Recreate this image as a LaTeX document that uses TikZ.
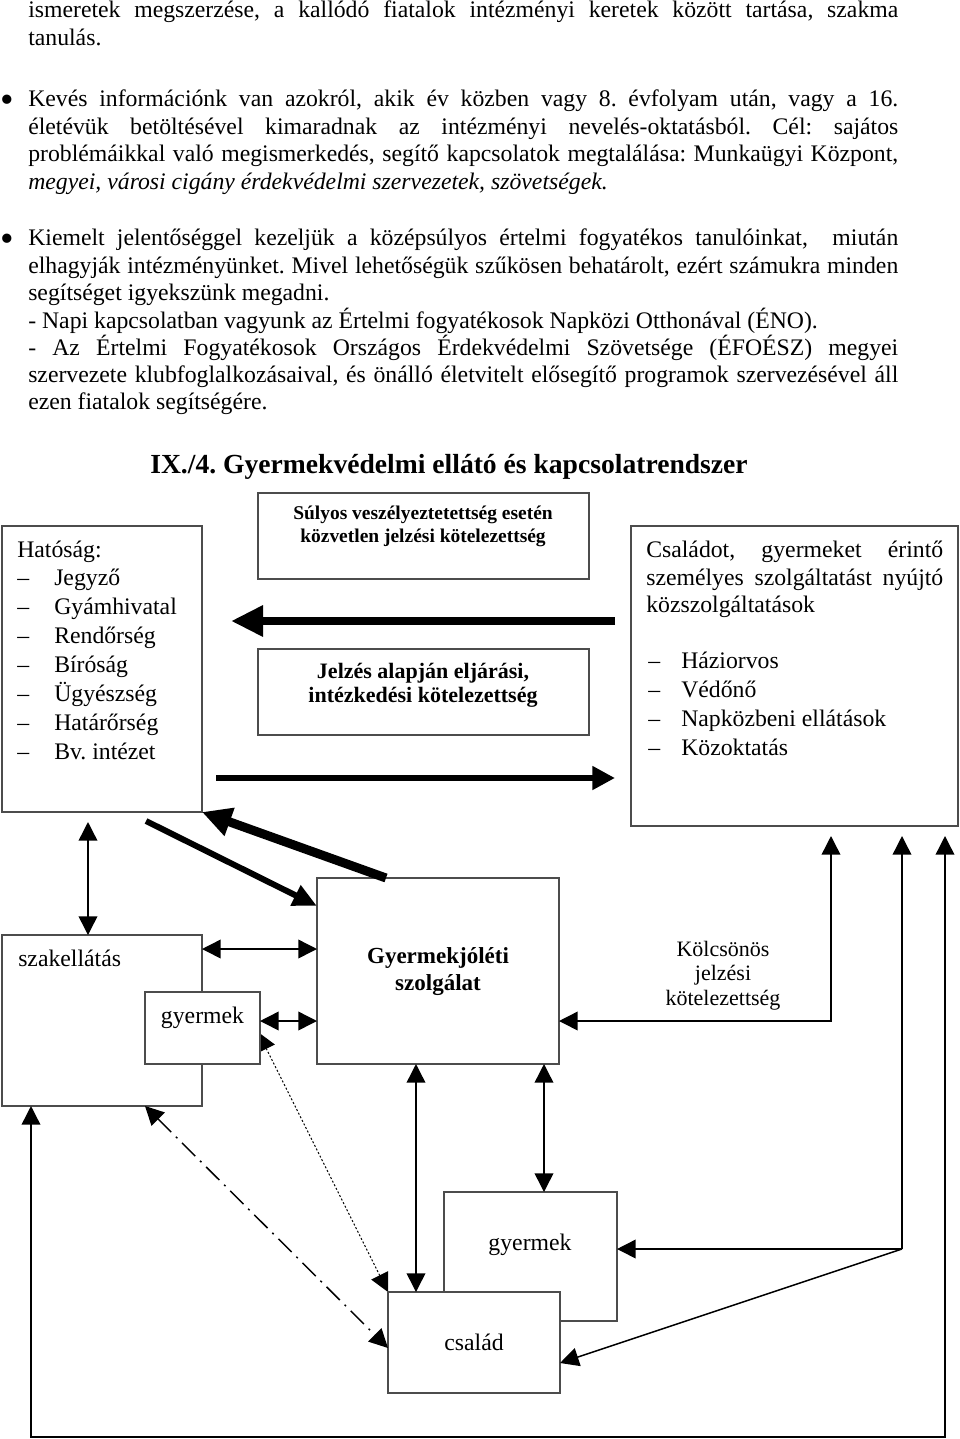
\documentclass[tikz,border=0pt]{standalone}
\usepackage{fontspec}
\setmainfont{Liberation Serif}
\usetikzlibrary{arrows.meta,calc}
\pgfdeclarelayer{bglayer}
\pgfsetlayers{bglayer,main}
\newcommand\jline[1]{\makebox[652.5pt][s]{#1}}
\newcommand\jbox[1]{\makebox[222.75pt][s]{#1}}
\frenchspacing
\begin{document}
\frenchspacing
\begin{tikzpicture}[x=0.75pt,y=-0.75pt,
  >={Triangle[length=14pt,width=14pt]},
  box/.style={draw=black!70,line width=1.1pt,fill=white,inner sep=0pt,outer sep=0pt,anchor=north west,rectangle},
  tl/.style={anchor=base west,inner sep=0pt,font=\fontsize{17.8}{21}\selectfont},
  tc/.style={anchor=base,inner sep=0pt,font=\fontsize{17.8}{21}\selectfont},
  bul/.style={anchor=base west,inner sep=0pt,font=\fontsize{29}{30}\selectfont},
  link/.style={draw=black,line width=1.1pt},
]
\useasboundingbox (0,0) rectangle (960,1439);

% ---- body text ----
\node[tl] (p1) at (28,17) {\jline{ismeretek megszerzése, a kallódó fiatalok intézményi keretek között tartása, szakma}};
\node[tl] (p2) at (28,45) {tanulás.};
\node[bul] (b1) at (0,112) {•};
\node[tl] (p3) at (28,106) {\jline{Kevés információnk van azokról, akik év közben vagy 8. évfolyam után, vagy a 16.}};
\node[tl] (p4) at (28,134) {\jline{életévük betöltésével kimaradnak az intézményi nevelés-oktatásból. Cél: sajátos}};
\node[tl] (p5) at (28,161) {\jline{problémáikkal való megismerkedés, segítő kapcsolatok megtalálása: Munkaügyi Központ,}};
\node[tl] (p6) at (28,189) {\itshape megyei, városi cigány érdekvédelmi szervezetek, szövetségek.};
\node[bul] (b2) at (0,251) {•};
\node[tl] (p7) at (28,245) {\jline{Kiemelt jelentőséggel kezeljük a középsúlyos értelmi fogyatékos tanulóinkat, \ miután}};
\node[tl] (p8) at (28,273) {\jline{elhagyják intézményünket. Mivel lehetőségük szűkösen behatárolt, ezért számukra minden}};
\node[tl] (p9) at (28,300) {segítséget igyekszünk megadni.};
\node[tl] (p10) at (28,328) {- Napi kapcsolatban vagyunk az Értelmi fogyatékosok Napközi Otthonával (ÉNO).};
\node[tl] (p11) at (28,355) {\jline{- Az Értelmi Fogyatékosok Országos Érdekvédelmi Szövetsége (ÉFOÉSZ) megyei}};
\node[tl] (p12) at (28,382) {\jline{szervezete klubfoglalkozásaival, és önálló életvitelt elősegítő programok szervezésével áll}};
\node[tl] (p13) at (28,409) {ezen fiatalok segítségére.};

\node[anchor=base,inner sep=0pt,font=\bfseries\fontsize{20.7}{24}\selectfont] (title) at (449,473) {IX./4. Gyermekvédelmi ellátó és kapcsolatrendszer};

% ---- boxes ----
\node[box,minimum width=150pt,minimum height=214.5pt] (hat) at (2,526) {};
\node[box,minimum width=248.25pt,minimum height=64.5pt] (sul) at (258,493) {};
\node[box,minimum width=248.25pt,minimum height=64.5pt] (jel) at (258,649) {};
\node[box,minimum width=245.25pt,minimum height=225pt] (csal) at (631,526) {};
\node[box,minimum width=150pt,minimum height=128.25pt] (szak) at (2,935) {};
\node[box,minimum width=86.25pt,minimum height=54pt] (gyk1) at (145,992) {};
\node[box,minimum width=181.5pt,minimum height=139.5pt] (gyj) at (317,878) {};
\node[box,minimum width=129.75pt,minimum height=96.75pt] (gyk2) at (444,1192) {};
\node[box,minimum width=129pt,minimum height=75.75pt] (csalad) at (388,1292) {};

% ---- box texts ----
\node[tl] (hatt) at (17,557) {Hatóság:};
\foreach \t/\y [count=\i] in {Jegyző/585,Gyámhivatal/614,Rendőrség/643,Bíróság/672,Ügyészség/701,Határőrség/730,Bv. intézet/759}{
  \node[tl] (hd\i) at (17,\y) {–};
  \node[tl] (hl\i) at (54,\y) {\t};
}
\node[tl] (ct1) at (646,557) {\jbox{Családot, gyermeket érintő}};
\node[tl] (ct2) at (646,585) {\jbox{személyes szolgáltatást nyújtó}};
\node[tl] (ct3) at (646,612) {közszolgáltatások};
\foreach \t/\y [count=\i] in {Háziorvos/668,Védőnő/697,Napközbeni ellátások/726,Közoktatás/755}{
  \node[tl] (cd\i) at (648,\y) {–};
  \node[tl] (cl\i) at (681,\y) {\t};
}
\node[anchor=base,inner sep=0pt,font=\bfseries\fontsize{14.6}{17}\selectfont] (s1) at (423,519) {Súlyos veszélyeztetettség esetén};
\node[anchor=base,inner sep=0pt,font=\bfseries\fontsize{14.6}{17}\selectfont] (s2) at (423,542) {közvetlen jelzési kötelezettség};
\node[anchor=base,inner sep=0pt,font=\bfseries\fontsize{16.5}{19}\selectfont] (j1) at (423,678) {Jelzés alapján eljárási,};
\node[anchor=base,inner sep=0pt,font=\bfseries\fontsize{16.5}{19}\selectfont] (j2) at (423,702) {intézkedési kötelezettség};
\node[anchor=base,inner sep=0pt,font=\bfseries\fontsize{17.25}{21}\selectfont] (g1) at (438,963) {Gyermekjóléti};
\node[anchor=base,inner sep=0pt,font=\bfseries\fontsize{17.25}{21}\selectfont] (g2) at (438,990) {szolgálat};
\node[anchor=base,inner sep=0pt,font=\fontsize{16.5}{19}\selectfont] (k1) at (723,956) {Kölcsönös};
\node[anchor=base,inner sep=0pt,font=\fontsize{16.5}{19}\selectfont] (k2) at (723,980) {jelzési};
\node[anchor=base,inner sep=0pt,font=\fontsize{16.5}{19}\selectfont] (k3) at (723,1005) {kötelezettség};
\node[tl] (szt) at (18,966) {szakellátás};
\node[tc] (gk1t) at (202.5,1023) {gyermek};
\node[tc] (gk2t) at (530,1250) {gyermek};
\node[tc] (cst) at (474,1350) {család};

% ---- thick arrows ----
\draw[line width=6pt,-{Triangle[length=24pt,width=22pt]},shorten <=12pt,shorten >=21.75pt] (csal.west |- 0,621) -- (hat.east |- 0,621);
\draw[line width=4.5pt,-{Triangle[length=17pt,width=17pt]},shorten <=10.5pt,shorten >=12pt] (hat.east |- 0,778) -- (csal.west |- 0,778);
\draw[line width=6.75pt,-{Triangle[length=22pt,width=21pt]}] (gyj.north -| 386,0) -- (hat.south east);
\draw[line width=4.5pt,-{Triangle[length=18pt,width=16pt]}] ($(hat.south -| 146,0)+(0,9)$) -- (gyj.west |- 0,906);

% ---- thin connectors ----
\draw[link,<->,shorten <=7.5pt] (hat.south -| 88,0) -- (szak.north -| 88,0);
\draw[link,<->] (szak.east |- 0,949) -- (gyj.west |- 0,949);
\draw[link,<->] (gyk1.east |- 0,1021) -- (gyj.west |- 0,1021);
\coordinate (kc) at (831,1021);
\draw[link,<->,shorten >=7.5pt] (gyj.east |- kc) -- (kc) -- (csal.south -| kc);
\coordinate (jn) at (902,1249);
\draw[link,->,shorten >=7.5pt] (jn) -- (csal.south -| jn);
\draw[link,->] (jn) -- (gyk2.east |- jn);
\draw[link,->] (jn) -- (csalad.east |- 0,1363);
\coordinate (bl) at (31,1437);
\coordinate (br) at (945,1437);
\draw[link,<->,shorten >=7.5pt] (szak.south -| bl) -- (bl) -- (br) -- (csal.south -| br);
\draw[link,<->] (gyj.south -| 416,0) -- (csalad.north -| 416,0);
\draw[link,<->] (gyj.south -| 544,0) -- (gyk2.north -| 544,0);
\draw[link,<->,dash pattern=on 14pt off 5pt on 1.5pt off 5pt] (szak.south -| 145,0) -- (csalad.west |- 0,1348);
\begin{pgfonlayer}{bglayer}
\draw[draw=black,line width=0.8pt,<->,dash pattern=on 1.5pt off 1.5pt] (csalad.north west) -- (258,1032);
\end{pgfonlayer}
\end{tikzpicture}
\end{document}
